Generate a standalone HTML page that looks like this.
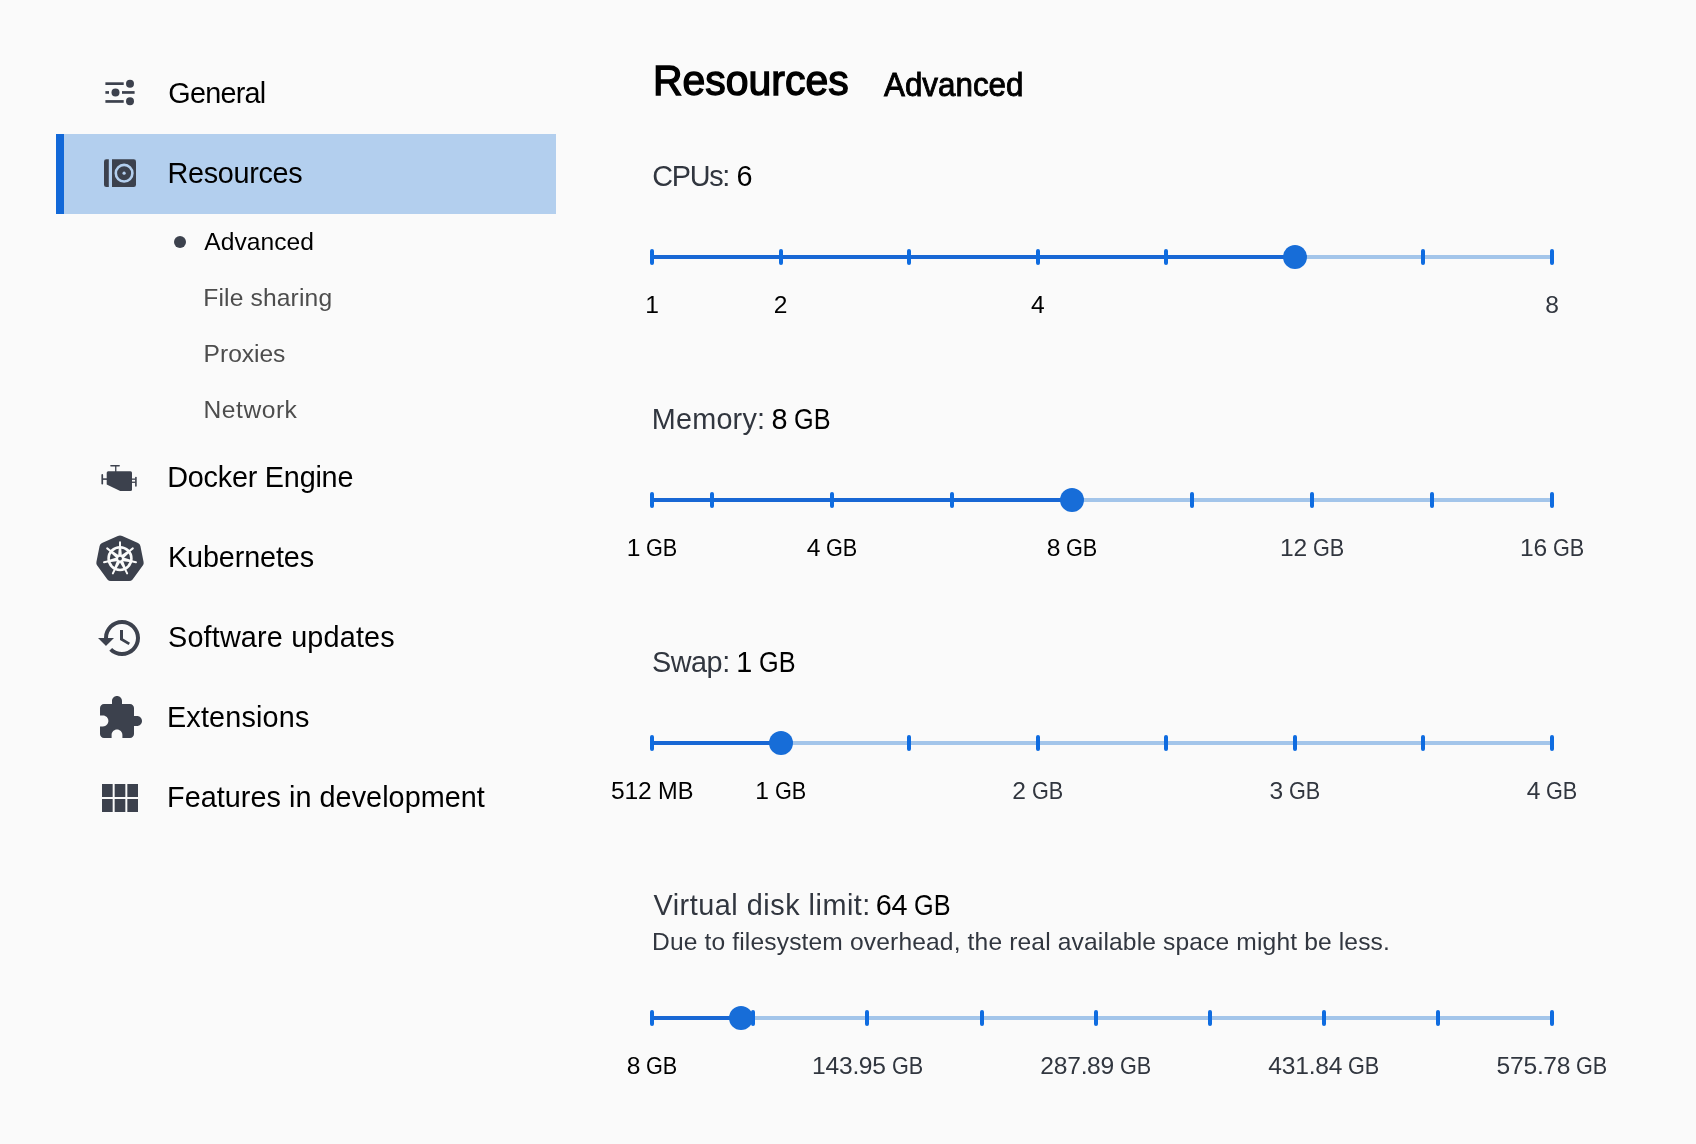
<!DOCTYPE html>
<html>
<head>
<meta charset="utf-8">
<style>
html,body{margin:0;padding:0;}
body{width:1696px;height:1144px;background:#fafafa;position:relative;overflow:hidden;font-family:"Liberation Sans",sans-serif;color:#000;}
#root{position:absolute;left:0;top:0;width:1696px;height:1144px;will-change:transform;}
.t{position:absolute;white-space:nowrap;line-height:1;}
.ico{position:absolute;left:96px;width:48px;height:48px;}
.ico svg{display:block;width:48px;height:48px;}
#sel{position:absolute;left:56px;top:134px;width:500px;height:80px;background:#b3cfee;}
#selbar{position:absolute;left:56px;top:134px;width:8px;height:80px;background:#1268d8;}
#bullet{position:absolute;left:174px;top:236px;width:12px;height:12px;border-radius:50%;background:#3c414d;}
.track{position:absolute;left:652px;width:900px;height:4px;background:#a3c5ea;border-radius:2px;}
.fill{position:absolute;left:652px;height:4px;background:#1867d4;border-radius:2px;}
.mk{position:absolute;width:4px;height:16px;border-radius:2px;background:#0f6ce0;}
.th{position:absolute;width:24px;height:24px;border-radius:50%;background:#176dd8;}
.ml{position:absolute;font-size:24.6px;line-height:1;white-space:nowrap;color:#31363f;}
.ml.a{color:#000;}
</style>
</head>
<body>
<div id="root">
<div id="sel"></div><div id="selbar"></div>
<div class="ico" style="top:68px"><svg viewBox="0 0 48 48" fill="#3c414d"><rect x="9.4" y="14.3" width="18.3" height="2.7"/><circle cx="34" cy="15.7" r="4"/><rect x="9.4" y="23.1" width="3.6" height="2.7"/><circle cx="19.5" cy="24.5" r="4"/><rect x="26" y="23.1" width="12.6" height="2.7"/><rect x="9.4" y="32.1" width="18.3" height="2.7"/><circle cx="34" cy="33.2" r="4"/></svg></div>
<div class="ico" style="top:149px"><svg viewBox="0 0 48 48" fill="#3c414d"><path d="M10.3 10.3H12.8V38H10.3A2.3 2.3 0 0 1 8 35.7V12.6A2.3 2.3 0 0 1 10.3 10.3Z"/><path d="M16 10.3H37.7A2.3 2.3 0 0 1 40 12.6V35.7A2.3 2.3 0 0 1 37.7 38H16Z"/><circle cx="28.1" cy="24.2" r="8.3" fill="none" stroke="#b3cfee" stroke-width="2.6"/><circle cx="28.1" cy="24.2" r="1.6" fill="#b3cfee"/></svg></div>
<div class="ico" style="top:454px"><svg viewBox="0 0 48 48" fill="#3c414d"><rect x="14.2" y="11" width="9.7" height="1.4" rx="0.7"/><rect x="19.1" y="11.5" width="1.3" height="6.5"/><path d="M12.2 17.2H34.5A1.5 1.5 0 0 1 36 18.7V35.4A1.5 1.5 0 0 1 34.5 36.9H24.2L10.7 30.6V18.7A1.5 1.5 0 0 1 12.2 17.2Z"/><rect x="5.4" y="20.1" width="1.7" height="10.5" rx="0.8"/><rect x="6.5" y="24.3" width="4.5" height="1.6"/><rect x="39.1" y="22.7" width="1.6" height="10" rx="0.8"/><rect x="35.5" y="24.5" width="4" height="1.3"/><rect x="35.5" y="27.6" width="4" height="1.3"/></svg></div>
<div class="ico" style="top:534px"><svg viewBox="0 0 48 48"><path fill="#3c414d" d="M21.8 1.9Q24 0.9 26.2 1.9L42 9Q44 10 44.4 12L47.6 28Q48 30 46.8 31.6L36.6 45.4Q35.2 47 33.2 47H14.8Q12.8 47 11.4 45.4L1.2 31.6Q0 30 0.4 28L3.6 12Q4 10 6 9Z"/><g fill="#fafafa"><polygon points="26.10,24.60 25.15,13.20 22.85,13.20 21.90,24.60"/><polygon points="25.31,26.24 33.63,18.39 32.20,16.59 22.69,22.96"/><polygon points="23.53,26.65 34.86,28.26 35.37,26.02 24.47,22.55"/><polygon points="22.11,25.51 27.91,35.37 29.98,34.37 25.89,23.69"/><polygon points="22.11,23.69 18.02,34.37 20.09,35.37 25.89,25.51"/><polygon points="23.53,22.55 12.63,26.02 13.14,28.26 24.47,26.65"/><polygon points="25.31,22.96 15.80,16.59 14.37,18.39 22.69,26.24"/></g><g stroke="#fafafa" stroke-width="2.0" stroke-linecap="round" fill="none"><circle cx="24" cy="24.6" r="11.4" stroke-width="2.6"/><line x1="24.00" y1="14.10" x2="24.00" y2="8.20"/><line x1="32.21" y1="18.05" x2="36.82" y2="14.37"/><line x1="34.24" y1="26.94" x2="39.99" y2="28.25"/><line x1="28.56" y1="34.06" x2="31.12" y2="39.38"/><line x1="19.44" y1="34.06" x2="16.88" y2="39.38"/><line x1="13.76" y1="26.94" x2="8.01" y2="28.25"/><line x1="15.79" y1="18.05" x2="11.18" y2="14.37"/></g><circle cx="24" cy="24.6" r="3.0" fill="#fafafa"/><circle cx="24" cy="24.6" r="1.9" fill="#3c414d"/></svg></div>
<div class="ico" style="top:614px"><svg viewBox="0 0 24 24" fill="#3c414d"><path d="M13 3c-4.97 0-9 4.03-9 9H1l3.89 3.89.07.14L9 12H6c0-3.87 3.13-7 7-7s7 3.13 7 7-3.13 7-7 7c-1.93 0-3.68-.79-4.94-2.06l-1.42 1.42C8.27 19.99 10.51 21 13 21c4.97 0 9-4.03 9-9s-4.03-9-9-9zm-1 5v5l4.28 2.54.72-1.21-3.5-2.08V8H12z"/></svg></div>
<div class="ico" style="top:694px"><svg viewBox="0 0 24 24" fill="#3c414d"><path d="M20.5 11H19V7c0-1.1-.9-2-2-2h-4V3.5C13 2.12 11.88 1 10.5 1S8 2.12 8 3.5V5H4c-1.1 0-1.99.9-1.99 2v3.8H3.5c1.49 0 2.7 1.21 2.7 2.7s-1.21 2.7-2.7 2.7H2V20c0 1.1.9 2 2 2h3.8v-1.5c0-1.49 1.21-2.7 2.7-2.7 1.49 0 2.7 1.21 2.7 2.7V22H17c1.1 0 2-.9 2-2v-4h1.5c1.38 0 2.5-1.12 2.5-2.5S21.88 11 20.5 11z"/></svg></div>
<div class="ico" style="top:774px"><svg viewBox="0 0 24 24" fill="#3c414d"><path d="M14.67 5v6.5H9.33V5h5.34zm1 6.5H21V5h-5.33v6.5zm-1 7.5v-6.5H9.33V19h5.34zm1-6.5V19H21v-6.5h-5.33zm-7.34 0H3V19h5.33v-6.5zm0-1V5H3v6.5h5.33z"/></svg></div>
<div id="bullet"></div>
<div class="t" style="left:168.3px;top:79.0px;font-size:28.8px;color:#000;letter-spacing:-0.75px;">General</div>
<div class="t" style="left:167.6px;top:159.0px;font-size:28.8px;color:#000;letter-spacing:-0.32px;">Resources</div>
<div class="t" style="left:167.2px;top:463.0px;font-size:28.8px;color:#000;letter-spacing:-0.22px;">Docker Engine</div>
<div class="t" style="left:168.0px;top:543.0px;font-size:28.8px;color:#000;letter-spacing:-0.14px;">Kubernetes</div>
<div class="t" style="left:168.0px;top:623.0px;font-size:28.8px;color:#000;letter-spacing:0.17px;">Software updates</div>
<div class="t" style="left:167.0px;top:703.0px;font-size:28.8px;color:#000;letter-spacing:0.16px;">Extensions</div>
<div class="t" style="left:167.0px;top:783.0px;font-size:28.8px;color:#000;letter-spacing:0.04px;">Features in development</div>
<div class="t" style="left:204.3px;top:230.2px;font-size:24.6px;color:#000;letter-spacing:0.04px;">Advanced</div>
<div class="t" style="left:203.3px;top:286.2px;font-size:24.6px;color:#4d4d4d;letter-spacing:0.15px;">File sharing</div>
<div class="t" style="left:203.6px;top:342.0px;font-size:24.6px;color:#4d4d4d;letter-spacing:-0.03px;">Proxies</div>
<div class="t" style="left:203.6px;top:398.1px;font-size:24.6px;color:#4d4d4d;letter-spacing:0.52px;">Network</div>
<div class="t" style="left:653.0px;top:60.3px;font-size:42.5px;color:#000;-webkit-text-stroke:1.4px #000;transform:scaleX(0.9632);transform-origin:0 0;">Resources</div>
<div class="t" style="left:883.7px;top:67.6px;font-size:33px;color:#000;-webkit-text-stroke:0.9px #000;transform:scaleX(0.9503);transform-origin:0 0;">Advanced</div>
<div class="t" style="left:652.3px;top:162.2px;font-size:28.8px;color:#31363f;letter-spacing:-1.30px;">CPUs:</div>
<div class="t" style="left:736.6px;top:162.2px;font-size:28.8px;color:#000;"><span style="letter-spacing:-0.29px">6</span></div>
<div class="t" style="left:651.8px;top:405.0px;font-size:28.8px;color:#31363f;letter-spacing:0.20px;">Memory:</div>
<div class="t" style="left:771.4px;top:405.0px;font-size:28.8px;color:#000;"><span style="letter-spacing:-0.29px">8</span><span style="letter-spacing:-1.07px">&nbsp;</span><span style="display:inline-block;transform:scaleX(0.8773);transform-origin:0 0;margin-right:-5.11px">GB</span></div>
<div class="t" style="left:652.0px;top:647.8px;font-size:28.8px;color:#31363f;letter-spacing:-0.47px;">Swap:</div>
<div class="t" style="left:736.2px;top:647.8px;font-size:28.8px;color:#000;"><span style="letter-spacing:-0.29px">1</span><span style="letter-spacing:-1.07px">&nbsp;</span><span style="display:inline-block;transform:scaleX(0.8773);transform-origin:0 0;margin-right:-5.11px">GB</span></div>
<div class="t" style="left:653.5px;top:890.7px;font-size:28.8px;color:#31363f;letter-spacing:0.52px;">Virtual disk limit:</div>
<div class="t" style="left:875.8px;top:890.7px;font-size:28.8px;color:#000;"><span style="letter-spacing:-0.29px">6</span><span style="letter-spacing:-0.29px">4</span><span style="letter-spacing:-1.07px">&nbsp;</span><span style="display:inline-block;transform:scaleX(0.8773);transform-origin:0 0;margin-right:-5.11px">GB</span></div>
<div class="t" style="left:652.0px;top:929.6px;font-size:24.6px;color:#31363f;letter-spacing:0.14px;">Due to filesystem overhead, the real available space might be less.</div>
<div class="track" style="top:255px"></div>
<div class="fill" style="top:255px;width:642.86px"></div>
<div class="mk" style="left:650.00px;top:249px"></div>
<div class="mk" style="left:778.57px;top:249px"></div>
<div class="mk" style="left:907.14px;top:249px"></div>
<div class="mk" style="left:1035.71px;top:249px"></div>
<div class="mk" style="left:1164.29px;top:249px"></div>
<div class="mk" style="left:1292.86px;top:249px"></div>
<div class="mk" style="left:1421.43px;top:249px"></div>
<div class="mk" style="left:1550.00px;top:249px"></div>
<div class="th" style="left:1282.86px;top:245px"></div>
<div class="ml a" style="left:645.26px;top:293px"><span style="letter-spacing:-0.20px">1</span></div>
<div class="ml a" style="left:773.83px;top:293px"><span style="letter-spacing:-0.20px">2</span></div>
<div class="ml a" style="left:1030.98px;top:293px"><span style="letter-spacing:-0.20px">4</span></div>
<div class="ml" style="left:1545.26px;top:293px"><span style="letter-spacing:-0.20px">8</span></div>
<div class="track" style="top:498px"></div>
<div class="fill" style="top:498px;width:420.00px"></div>
<div class="mk" style="left:650.00px;top:492px"></div>
<div class="mk" style="left:710.00px;top:492px"></div>
<div class="mk" style="left:830.00px;top:492px"></div>
<div class="mk" style="left:950.00px;top:492px"></div>
<div class="mk" style="left:1070.00px;top:492px"></div>
<div class="mk" style="left:1190.00px;top:492px"></div>
<div class="mk" style="left:1310.00px;top:492px"></div>
<div class="mk" style="left:1430.00px;top:492px"></div>
<div class="mk" style="left:1550.00px;top:492px"></div>
<div class="th" style="left:1060.00px;top:488px"></div>
<div class="ml a" style="left:626.65px;top:536px"><span style="letter-spacing:-0.20px">1</span><span style="letter-spacing:-0.89px">&nbsp;</span><span style="display:inline-block;transform:scaleX(0.8803);transform-origin:0 0;margin-right:-4.25px">GB</span></div>
<div class="ml a" style="left:806.65px;top:536px"><span style="letter-spacing:-0.20px">4</span><span style="letter-spacing:-0.89px">&nbsp;</span><span style="display:inline-block;transform:scaleX(0.8803);transform-origin:0 0;margin-right:-4.25px">GB</span></div>
<div class="ml a" style="left:1046.65px;top:536px"><span style="letter-spacing:-0.20px">8</span><span style="letter-spacing:-0.89px">&nbsp;</span><span style="display:inline-block;transform:scaleX(0.8803);transform-origin:0 0;margin-right:-4.25px">GB</span></div>
<div class="ml" style="left:1279.91px;top:536px"><span style="letter-spacing:-0.20px">1</span><span style="letter-spacing:-0.20px">2</span><span style="letter-spacing:-0.89px">&nbsp;</span><span style="display:inline-block;transform:scaleX(0.8803);transform-origin:0 0;margin-right:-4.25px">GB</span></div>
<div class="ml" style="left:1519.91px;top:536px"><span style="letter-spacing:-0.20px">1</span><span style="letter-spacing:-0.20px">6</span><span style="letter-spacing:-0.89px">&nbsp;</span><span style="display:inline-block;transform:scaleX(0.8803);transform-origin:0 0;margin-right:-4.25px">GB</span></div>
<div class="track" style="top:741px"></div>
<div class="fill" style="top:741px;width:128.57px"></div>
<div class="mk" style="left:650.00px;top:735px"></div>
<div class="mk" style="left:778.57px;top:735px"></div>
<div class="mk" style="left:907.14px;top:735px"></div>
<div class="mk" style="left:1035.71px;top:735px"></div>
<div class="mk" style="left:1164.29px;top:735px"></div>
<div class="mk" style="left:1292.86px;top:735px"></div>
<div class="mk" style="left:1421.43px;top:735px"></div>
<div class="mk" style="left:1550.00px;top:735px"></div>
<div class="th" style="left:768.57px;top:731px"></div>
<div class="ml a" style="left:611.12px;top:779px"><span style="letter-spacing:-0.20px">5</span><span style="letter-spacing:-0.20px">1</span><span style="letter-spacing:-0.20px">2</span><span style="letter-spacing:-0.89px">&nbsp;</span><span style="display:inline-block;transform:scaleX(0.9588);transform-origin:0 0;margin-right:-1.52px">MB</span></div>
<div class="ml a" style="left:755.22px;top:779px"><span style="letter-spacing:-0.20px">1</span><span style="letter-spacing:-0.89px">&nbsp;</span><span style="display:inline-block;transform:scaleX(0.8803);transform-origin:0 0;margin-right:-4.25px">GB</span></div>
<div class="ml" style="left:1012.36px;top:779px"><span style="letter-spacing:-0.20px">2</span><span style="letter-spacing:-0.89px">&nbsp;</span><span style="display:inline-block;transform:scaleX(0.8803);transform-origin:0 0;margin-right:-4.25px">GB</span></div>
<div class="ml" style="left:1269.50px;top:779px"><span style="letter-spacing:-0.20px">3</span><span style="letter-spacing:-0.89px">&nbsp;</span><span style="display:inline-block;transform:scaleX(0.8803);transform-origin:0 0;margin-right:-4.25px">GB</span></div>
<div class="ml" style="left:1526.65px;top:779px"><span style="letter-spacing:-0.20px">4</span><span style="letter-spacing:-0.89px">&nbsp;</span><span style="display:inline-block;transform:scaleX(0.8803);transform-origin:0 0;margin-right:-4.25px">GB</span></div>
<div class="track" style="top:1016px"></div>
<div class="fill" style="top:1016px;width:88.77px"></div>
<div class="mk" style="left:650.00px;top:1010px"></div>
<div class="mk" style="left:751.40px;top:1010px"></div>
<div class="mk" style="left:865.49px;top:1010px"></div>
<div class="mk" style="left:979.57px;top:1010px"></div>
<div class="mk" style="left:1093.66px;top:1010px"></div>
<div class="mk" style="left:1207.74px;top:1010px"></div>
<div class="mk" style="left:1321.83px;top:1010px"></div>
<div class="mk" style="left:1435.91px;top:1010px"></div>
<div class="mk" style="left:1550.00px;top:1010px"></div>
<div class="th" style="left:728.77px;top:1006px"></div>
<div class="ml a" style="left:626.65px;top:1054px"><span style="letter-spacing:-0.20px">8</span><span style="letter-spacing:-0.89px">&nbsp;</span><span style="display:inline-block;transform:scaleX(0.8803);transform-origin:0 0;margin-right:-4.25px">GB</span></div>
<div class="ml" style="left:812.03px;top:1054px"><span style="letter-spacing:-0.20px">1</span><span style="letter-spacing:-0.20px">4</span><span style="letter-spacing:-0.20px">3</span><span style="letter-spacing:-0.52px">.</span><span style="letter-spacing:-0.20px">9</span><span style="letter-spacing:-0.20px">5</span><span style="letter-spacing:-0.89px">&nbsp;</span><span style="display:inline-block;transform:scaleX(0.8803);transform-origin:0 0;margin-right:-4.25px">GB</span></div>
<div class="ml" style="left:1040.19px;top:1054px"><span style="letter-spacing:-0.20px">2</span><span style="letter-spacing:-0.20px">8</span><span style="letter-spacing:-0.20px">7</span><span style="letter-spacing:-0.52px">.</span><span style="letter-spacing:-0.20px">8</span><span style="letter-spacing:-0.20px">9</span><span style="letter-spacing:-0.89px">&nbsp;</span><span style="display:inline-block;transform:scaleX(0.8803);transform-origin:0 0;margin-right:-4.25px">GB</span></div>
<div class="ml" style="left:1268.37px;top:1054px"><span style="letter-spacing:-0.20px">4</span><span style="letter-spacing:-0.20px">3</span><span style="letter-spacing:-0.20px">1</span><span style="letter-spacing:-0.52px">.</span><span style="letter-spacing:-0.20px">8</span><span style="letter-spacing:-0.20px">4</span><span style="letter-spacing:-0.89px">&nbsp;</span><span style="display:inline-block;transform:scaleX(0.8803);transform-origin:0 0;margin-right:-4.25px">GB</span></div>
<div class="ml" style="left:1496.54px;top:1054px"><span style="letter-spacing:-0.20px">5</span><span style="letter-spacing:-0.20px">7</span><span style="letter-spacing:-0.20px">5</span><span style="letter-spacing:-0.52px">.</span><span style="letter-spacing:-0.20px">7</span><span style="letter-spacing:-0.20px">8</span><span style="letter-spacing:-0.89px">&nbsp;</span><span style="display:inline-block;transform:scaleX(0.8803);transform-origin:0 0;margin-right:-4.25px">GB</span></div>
</div>
</body>
</html>
